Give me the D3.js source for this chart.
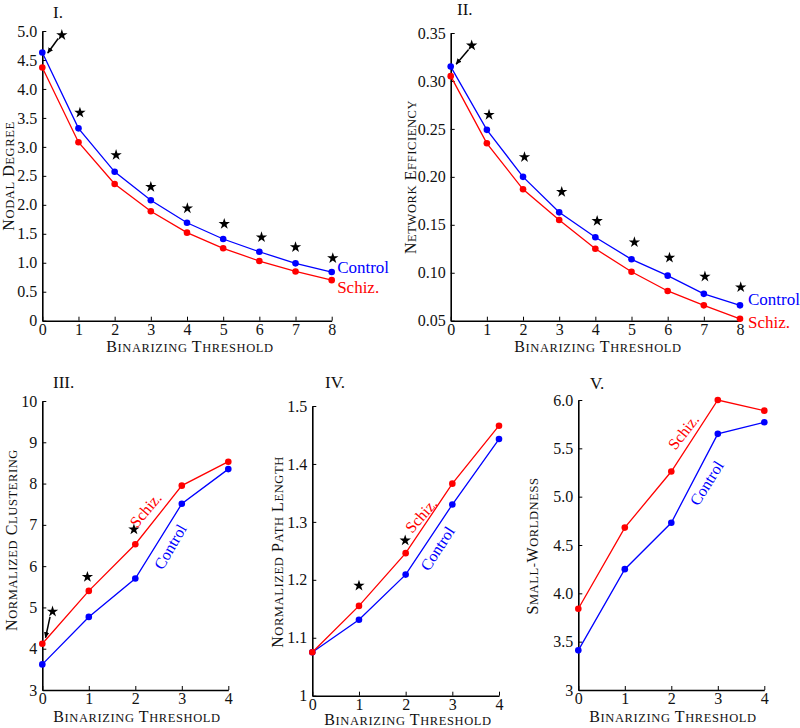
<!DOCTYPE html>
<html><head><meta charset="utf-8">
<script src="https://cdn.jsdelivr.net/npm/d3@7"></script>
<style>body{margin:0;background:#fff}svg{display:block}</style>
</head><body><svg id="c" width="800" height="728"></svg>
<script>
// ---------- data ----------
const thresholds8 = [0,1,2,3,4,5,6,7,8];
const thresholds4 = [0,1,2,3,4];

const degreeControl = [4.63,3.32,2.57,2.08,1.69,1.41,1.19,0.99,0.84];
const degreeSchiz   = [4.37,3.08,2.36,1.89,1.52,1.25,1.03,0.85,0.70];
const degreeStarsX  = [0.54,1.04,2.04,3.0,4.01,5.03,6.06,7.0,8.03];
const degreeStarsY  = [4.93,3.59,2.86,2.31,1.94,1.67,1.44,1.27,1.08];
const degreeArrow   = [0.44,4.87,0.15,4.62];
const degreeTicks   = [0,0.5,1,1.5,2,2.5,3,3.5,4,4.5,5];
const degreeTickLabels = ["0","0.5","1.0","1.5","2.0","2.5","3.0","3.5","4.0","4.5","5.0"];

const efficiencyControl = [0.315,0.249,0.200,0.163,0.137,0.114,0.097,0.078,0.066];
const efficiencySchiz   = [0.305,0.235,0.187,0.155,0.125,0.101,0.081,0.066,0.052];
const efficiencyStarsX  = [0.58,1.06,2.04,3.07,4.05,5.08,6.05,7.03,8.02];
const efficiencyStarsY  = [0.337,0.2647,0.2206,0.1843,0.154,0.1318,0.1157,0.096,0.0849];
const efficiencyArrow   = [0.49,0.3326,0.15,0.3175];
const efficiencyTicks   = [0.05,0.10,0.15,0.20,0.25,0.30,0.35];
const efficiencyTickLabels = ["0.05","0.10","0.15","0.20","0.25","0.30","0.35"];

const clusteringSchiz   = [4.12,5.40,6.53,7.95,8.53];
const clusteringControl = [3.62,4.77,5.70,7.51,8.35];
const clusteringStarsX  = [0.22,0.97,1.97];
const clusteringStarsY  = [4.90,5.74,6.89];
const clusteringArrow   = [0.166,4.77,0.07,4.27];
const clusteringTicks   = [3,4,5,6,7,8,9,10];
const clusteringTickLabels = ["3","4","5","6","7","8","9","10"];

const pathSchiz   = [1.075,1.155,1.246,1.366,1.466];
const pathControl = [1.075,1.131,1.209,1.330,1.443];
const pathStarsX  = [1.0,1.99];
const pathStarsY  = [1.19,1.268];
const pathTicks   = [1,1.1,1.2,1.3,1.4,1.5];
const pathTickLabels = ["1","1.1","1.2","1.3","1.4","1.5"];

const smallWorldSchiz   = [3.84,4.68,5.26,6.00,5.89];
const smallWorldControl = [3.41,4.25,4.73,5.65,5.77];
const smallWorldTicks   = [3,3.5,4,4.5,5,5.5,6];
const smallWorldTickLabels = ["3","3.5","4.0","4.5","5.0","5.5","6.0"];

const seriesNames = ["Control","Schiz."];
const seriesColors = ["#0000ff","#ff0000"];

// ---------- drawing ----------
const FONT = "'Liberation Serif','Times New Roman',serif";
const svg = d3.select('#c');
svg.append('defs').append('marker')
  .attr('id','ah').attr('viewBox','0 0 10 10').attr('refX',9).attr('refY',5)
  .attr('markerWidth',4).attr('markerHeight',4).attr('orient','auto')
  .append('path').attr('d','M0,0.5 L10,5 L0,9.5 z').attr('fill','#000');

function smallCaps(t, str, big, small){
  const runs=[];
  for(const ch of str){
    const b = /[A-Z ]/.test(ch);
    if(runs.length && runs[runs.length-1].b===b) runs[runs.length-1].s+=ch;
    else runs.push({b, s:ch});
  }
  runs.forEach(r=>{
    t.append('tspan').attr('font-size', r.b?big:small).text(r.s.toUpperCase());
  });
}

function panel(p){
  const g = svg.append('g');
  const x = d3.scaleLinear().domain(p.xDomain).range(p.xRange);
  const y = d3.scaleLinear().domain(p.yDomain).range(p.yRange);
  const x0 = p.xRange[0], yb = p.yRange[0];

  const xa = g.append('g').attr('transform',`translate(0,${yb})`)
    .call(d3.axisBottom(x).tickValues(p.xValues).tickFormat(d3.format('d'))
      .tickSize(-4).tickSizeOuter(0).tickPadding(3));
  const ya = g.append('g').attr('transform',`translate(${x0},0)`)
    .call(d3.axisLeft(y).tickValues(p.yTicks).tickFormat((d,i)=>p.yTickLabels[i])
      .tickSize(-4).tickSizeOuter(0).tickPadding(5));
  [xa,ya].forEach(a=>{
    a.attr('font-family',null).attr('font-size',null);
    a.select('.domain').attr('stroke','#000').attr('stroke-width',1.6);
    a.selectAll('.tick line').attr('stroke','#000').attr('stroke-width',1);
    a.selectAll('.tick text').attr('fill','#111').attr('font-family',FONT).attr('font-size',16);
  });

  // lines & dots
  p.series.forEach((vals,si)=>{
    const pts = p.xValues.map((xv,i)=>[x(xv), y(vals[i])]);
    g.append('path').attr('d', d3.line()(pts)).attr('fill','none')
      .attr('stroke', seriesColors[si]).attr('stroke-width',1.3);
    g.selectAll(null).data(pts).join('circle')
      .attr('cx',d=>d[0]).attr('cy',d=>d[1]).attr('r',3.3).attr('fill',seriesColors[si]);
  });

  // stars
  if(p.starsX){
    const sym = d3.symbol().type(d3.symbolStar).size(40);
    g.selectAll(null).data(p.starsX).join('path')
      .attr('d', sym).attr('fill','#000')
      .attr('transform',(d,i)=>`translate(${x(d)},${y(p.starsY[i])})`);
  }
  if(p.arrow){
    const a=p.arrow;
    g.append('line').attr('x1',x(a[0])).attr('y1',y(a[1])).attr('x2',x(a[2])).attr('y2',y(a[3]))
      .attr('stroke','#000').attr('stroke-width',1.5).attr('marker-end','url(#ah)');
  }

  // series labels
  p.labels.forEach((l,si)=>{
    g.append('text').attr('font-family',FONT).attr('font-size',l.rot?16:17)
      .attr('fill',seriesColors[si]).attr('dominant-baseline','central')
      .attr('text-anchor', l.rot? 'middle':'start')
      .attr('transform',`translate(${x(l.x)},${y(l.y)}) rotate(${l.rot||0})`)
      .text(seriesNames[si]);
  });

  // title
  g.append('text').attr('x',p.title[1]).attr('y',p.title[2]).attr('font-family',FONT)
    .attr('font-size',17).attr('fill','#111').text(p.title[0]);

  // axis labels
  const xl = g.append('text').attr('x',p.xLabelPos[0]).attr('y',p.xLabelPos[1])
    .attr('text-anchor','middle').attr('font-family',FONT).attr('fill','#111')
    .attr('letter-spacing',0.6);
  smallCaps(xl,'Binarizing Threshold',16,12.5);
  const yl = g.append('text').attr('text-anchor','middle').attr('font-family',FONT).attr('fill','#111')
    .attr('letter-spacing',0.6)
    .attr('transform',`translate(${p.yLabelPos[0]},${p.yLabelPos[1]}) rotate(-90)`);
  smallCaps(yl,p.yLabel,16,12.5);
}

panel({
  xDomain:[0,8], yDomain:[0,5], xRange:[42.3,331.7], yRange:[320.7,31],
  xValues:thresholds8, series:[degreeControl,degreeSchiz],
  yTicks:degreeTicks, yTickLabels:degreeTickLabels,
  starsX:degreeStarsX, starsY:degreeStarsY, arrow:degreeArrow,
  labels:[{x:8.15,y:0.91},{x:8.15,y:0.58}],
  title:['I.',53,18], xLabelPos:[190,352], yLabelPos:[14,176], yLabel:'Nodal Degree'
});
panel({
  xDomain:[0,8], yDomain:[0.05,0.35], xRange:[450.7,740], yRange:[320.7,33],
  xValues:thresholds8, series:[efficiencyControl,efficiencySchiz],
  yTicks:efficiencyTicks, yTickLabels:efficiencyTickLabels,
  starsX:efficiencyStarsX, starsY:efficiencyStarsY, arrow:efficiencyArrow,
  labels:[{x:8.22,y:0.0716},{x:8.22,y:0.0486}],
  title:['II.',457,15], xLabelPos:[598,352], yLabelPos:[416,177], yLabel:'Network Efficiency'
});
panel({
  xDomain:[0,4], yDomain:[3,10], xRange:[42.3,228.3], yRange:[690,401],
  xValues:thresholds4, series:[clusteringControl,clusteringSchiz],
  yTicks:clusteringTicks, yTickLabels:clusteringTickLabels,
  starsX:clusteringStarsX, starsY:clusteringStarsY, arrow:clusteringArrow,
  labels:[{x:2.75,y:6.47,rot:-60},{x:2.22,y:7.36,rot:-50}],
  title:['III.',53,388], xLabelPos:[137,722], yLabelPos:[17,540], yLabel:'Normalized Clustering'
});
panel({
  xDomain:[0,4], yDomain:[1,1.5], xRange:[312.3,499], yRange:[695.7,406],
  xValues:thresholds4, series:[pathControl,pathSchiz],
  yTicks:pathTicks, yTickLabels:pathTickLabels,
  starsX:pathStarsX, starsY:pathStarsY,
  labels:[{x:2.68,y:1.254,rot:-57},{x:2.33,y:1.311,rot:-49}],
  title:['IV.',325,388], xLabelPos:[408,725], yLabelPos:[283,552], yLabel:'Normalized Path Length'
});
panel({
  xDomain:[0,4], yDomain:[3,6], xRange:[578.3,764.3], yRange:[690,400],
  xValues:thresholds4, series:[smallWorldControl,smallWorldSchiz],
  yTicks:smallWorldTicks, yTickLabels:smallWorldTickLabels,
  labels:[{x:2.76,y:5.14,rot:-58},{x:2.26,y:5.67,rot:-52}],
  title:['V.',590,389], xLabelPos:[673,722], yLabelPos:[538,546], yLabel:'Small-Worldness'
});
</script></body></html>
